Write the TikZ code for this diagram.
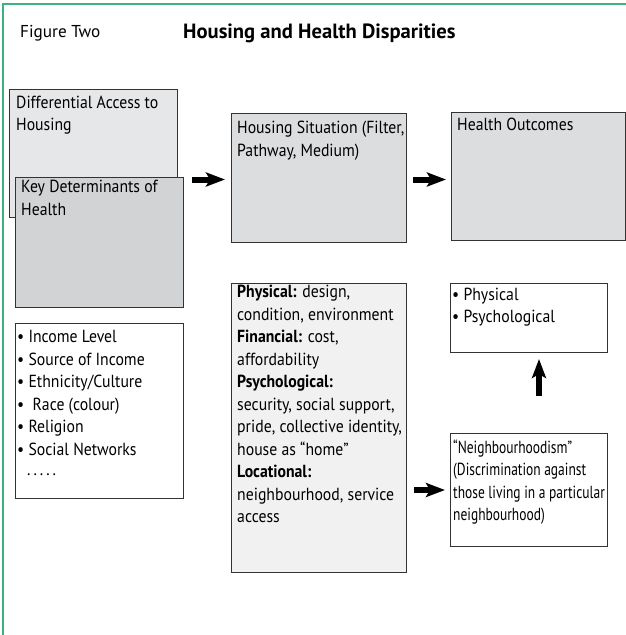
\documentclass[tikz,border=0pt]{standalone}
\usepackage{fontspec}
\setmainfont{PT Sans}
\newfontfamily\bodyfont{PT Sans}[FakeStretch=0.9]
\newfontfamily\narrowfont{PT Sans}[FakeStretch=0.77]
\usetikzlibrary{arrows.meta}
\definecolor{framegreen}{HTML}{3BB37E}
\definecolor{edge}{HTML}{333333}
\definecolor{fillA}{HTML}{E6E7E8}
\definecolor{fillB}{HTML}{D1D3D4}
\definecolor{fillC}{HTML}{DCDDDE}
\definecolor{fillF}{HTML}{F1F1F1}
\tikzset{
  box/.style={draw=edge, line width=1pt, anchor=north west, inner sep=0pt},
  txt/.style={anchor=north west, inner sep=0pt, align=left, font=\bodyfont\fontsize{17.5}{22.5}\selectfont},
  bigarrow/.style={line width=6pt, -{Stealth[length=19pt,width=14pt,inset=4pt]}}
}
\begin{document}
\begin{tikzpicture}[x=1pt,y=-1pt]
\useasboundingbox (0,0) rectangle (626,635);
\draw[framegreen, line width=1.3pt] (3,635) -- (3,4) -- (626,4);

\node[anchor=north west, inner sep=0pt, font=\fontsize{17.2}{22}\selectfont] (fig) at (20,25) {Figure Two};
\node[anchor=north west, inner sep=0pt, font=\fontsize{20.6}{24}\selectfont\bfseries] (title) at (183,24) {Housing and Health Disparities};

\node[box, fill=fillA, minimum width=168pt, minimum height=128pt] (acc) at (9,89) {};
\node[txt] (acct) at (16,95.5) {Differential Access to\\Housing};
\node[box, fill=fillB, minimum width=168pt, minimum height=130pt] (key) at (15,177) {};
\node[txt] (keyt) at (21,180) {Key Determinants of\\Health};
\node[box, fill=fillC, minimum width=175pt, minimum height=129pt] (hs) at (231,113) {};
\node[txt] (hst) at (237,121) {Housing Situation (Filter,\\Pathway, Medium)};
\node[box, fill=fillC, minimum width=174pt, minimum height=128pt] (ho) at (451,112) {};
\node[txt] (hot) at (457,117.5) {Health Outcomes};

\node[box, fill=white, minimum width=168pt, minimum height=175pt] (det) at (15,323) {};
\node[txt] (dett) at (17,330.5) {• Income Level\\• Source of Income\\• Ethnicity/Culture\\•\ \ Race (colour)\\• Religion\\• Social Networks\\[-2pt]\hspace{10pt}.\hspace{3pt}.\hspace{3pt}.\hspace{3pt}.\hspace{3pt}.};

\node[box, fill=fillF, minimum width=175pt, minimum height=289pt] (dim) at (231,283) {};
\node[txt] (dimt) at (237,285) {\textbf{Physical:} design,\\condition, environment\\\textbf{Financial:} cost,\\affordability\\\textbf{Psychological:}\\security, social support,\\pride, collective identity,\\house as “home”\\\textbf{Locational:}\\neighbourhood, service\\access};

\node[box, fill=white, minimum width=157pt, minimum height=69pt] (out) at (450,283) {};
\node[txt] (outt) at (452,287.5) {• Physical\\• Psychological};

\node[box, fill=white, minimum width=157pt, minimum height=113pt] (nb) at (450,433) {};
\node[txt, font=\narrowfont\fontsize{17.5}{22.5}\selectfont] (nbt) at (453,439.5) {“Neighbourhoodism”\\(Discrimination against\\those living in a particular\\neighbourhood)};

\draw[bigarrow] ([xshift=-39pt,yshift=-1.5pt]hs.west) -- ([xshift=-6pt,yshift=-1.5pt]hs.west);
\draw[bigarrow] ([xshift=6pt,yshift=-1.5pt]hs.east) -- ([xshift=-5pt,yshift=-3pt]ho.west);
\draw[bigarrow] ([xshift=7pt]dim.east |- nb.west) -- ([xshift=-5pt]nb.west);
\draw[bigarrow] ([xshift=10pt,yshift=-43pt]out.south) -- ([xshift=10pt,yshift=-6pt]out.south);
\end{tikzpicture}
\end{document}
